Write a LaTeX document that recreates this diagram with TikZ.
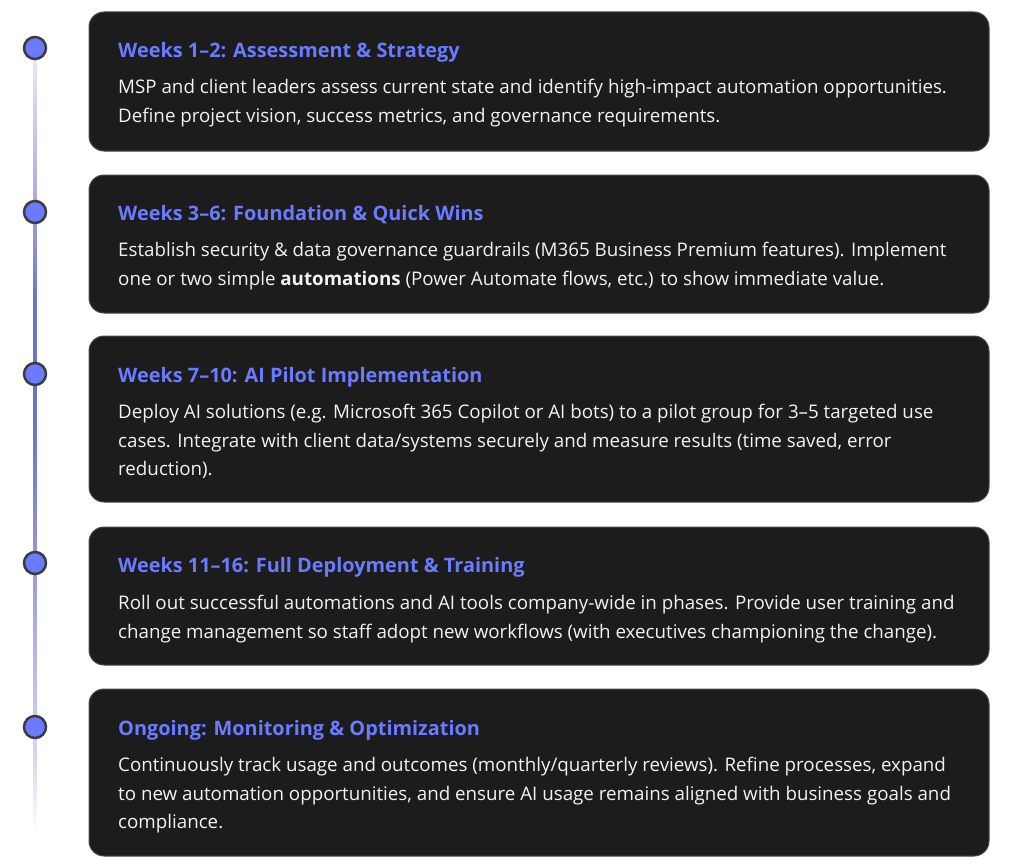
\documentclass[tikz,border=0pt]{standalone}
\usepackage{fontspec}
\setmainfont{Open Sans}
\usetikzlibrary{positioning}
\definecolor{cardbg}{HTML}{1C1C1C}
\definecolor{cardborder}{HTML}{4A4A4A}
\definecolor{accent}{HTML}{6A7BFF}
\definecolor{dotborder}{HTML}{3C3C3C}
\definecolor{bodytext}{HTML}{F2F2F2}
\pgfdeclareverticalshading{tlshade}{100bp}{
  color(0bp)=(white);
  color(25bp)=(white);
  color(29.6bp)=(rgb,255:red,216;green,216;blue,238);
  color(33.4bp)=(rgb,255:red,196;green,198;blue,232);
  color(42.3bp)=(rgb,255:red,149;green,153;blue,214);
  color(51.3bp)=(rgb,255:red,109;green,114;blue,194);
  color(58.9bp)=(rgb,255:red,109;green,114;blue,194);
  color(65.3bp)=(rgb,255:red,169;green,171;blue,220);
  color(74.2bp)=(rgb,255:red,230;green,230;blue,245);
  color(75bp)=(rgb,255:red,236;green,236;blue,247);
  color(100bp)=(rgb,255:red,236;green,236;blue,247)}
\tikzset{
  card/.style={fill=cardbg, draw=cardborder, line width=1pt, rounded corners=15pt},
  dot/.style={circle, fill=accent, draw=dotborder, line width=2.5pt, minimum size=22pt, inner sep=0pt},
  title/.style={anchor=base west, inner sep=0pt, text=accent, font=\fontsize{19.9}{23}\selectfont\bfseries},
  body/.style={anchor=base west, inner sep=0pt, text=bodytext, align=left, font=\fontsize{18.75}{28.5}\selectfont},
}
\begin{document}
\begin{tikzpicture}[x=1pt,y=-1pt]
\useasboundingbox (0,0) rectangle (1023,867);
\fill[white] (0,0) rectangle (1023,867);
% timeline
\coordinate (tltop) at (33.5,48);
\coordinate (tlend) at (36.5,832);
\shade[shading=tlshade] (tltop) rectangle (tlend);
% cards
\path[card] (89,12) rectangle (989,151);
\path[card] (89,175) rectangle (989,313);
\path[card] (89,336) rectangle (989,502);
\path[card] (89,527) rectangle (989,665);
\path[card] (89,689) rectangle (989,856);
% dots
\node[dot] (d1) at (35,48) {};
\node[dot] (d2) at (35,212) {};
\node[dot] (d3) at (35,374) {};
\node[dot] (d4) at (35,563) {};
\node[dot] (d5) at (35,727) {};
% card 1 (body anchored at the baseline of its last line)
\node[title] (t1) at (118,57.5) {Weeks 1–2: Assessment \& Strategy};
\node[body] (b1) at (118,122) {MSP and client leaders assess current state and identify high-impact automation opportunities.\\Define project vision, success metrics, and governance requirements.};
% card 2
\node[title] (t2) at (118,220.5) {Weeks 3–6: Foundation \& Quick Wins};
\node[body] (b2) at (118,285) {Establish security \& data governance guardrails (M365 Business Premium features). Implement\\one or two simple \textbf{automations} (Power Automate flows, etc.) to show immediate value.};
% card 3
\node[title] (t3) at (118,382.5) {Weeks 7–10: AI Pilot Implementation};
\node[body] (b3) at (118,475.5) {Deploy AI solutions (e.g. Microsoft 365 Copilot or AI bots) to a pilot group for 3–5 targeted use\\cases. Integrate with client data/systems securely and measure results (time saved, error\\reduction).};
% card 4
\node[title] (t4) at (118,572.5) {Weeks 11–16: Full Deployment \& Training};
\node[body] (b4) at (118,638) {Roll out successful automations and AI tools company-wide in phases. Provide user training and\\change management so staff adopt new workflows (with executives championing the change).};
% card 5
\node[title] (t5) at (118,735.5) {Ongoing: Monitoring \& Optimization};
\node[body] (b5) at (118,828.5) {Continuously track usage and outcomes (monthly/quarterly reviews). Refine processes, expand\\to new automation opportunities, and ensure AI usage remains aligned with business goals and\\compliance.};
\end{tikzpicture}
\end{document}
